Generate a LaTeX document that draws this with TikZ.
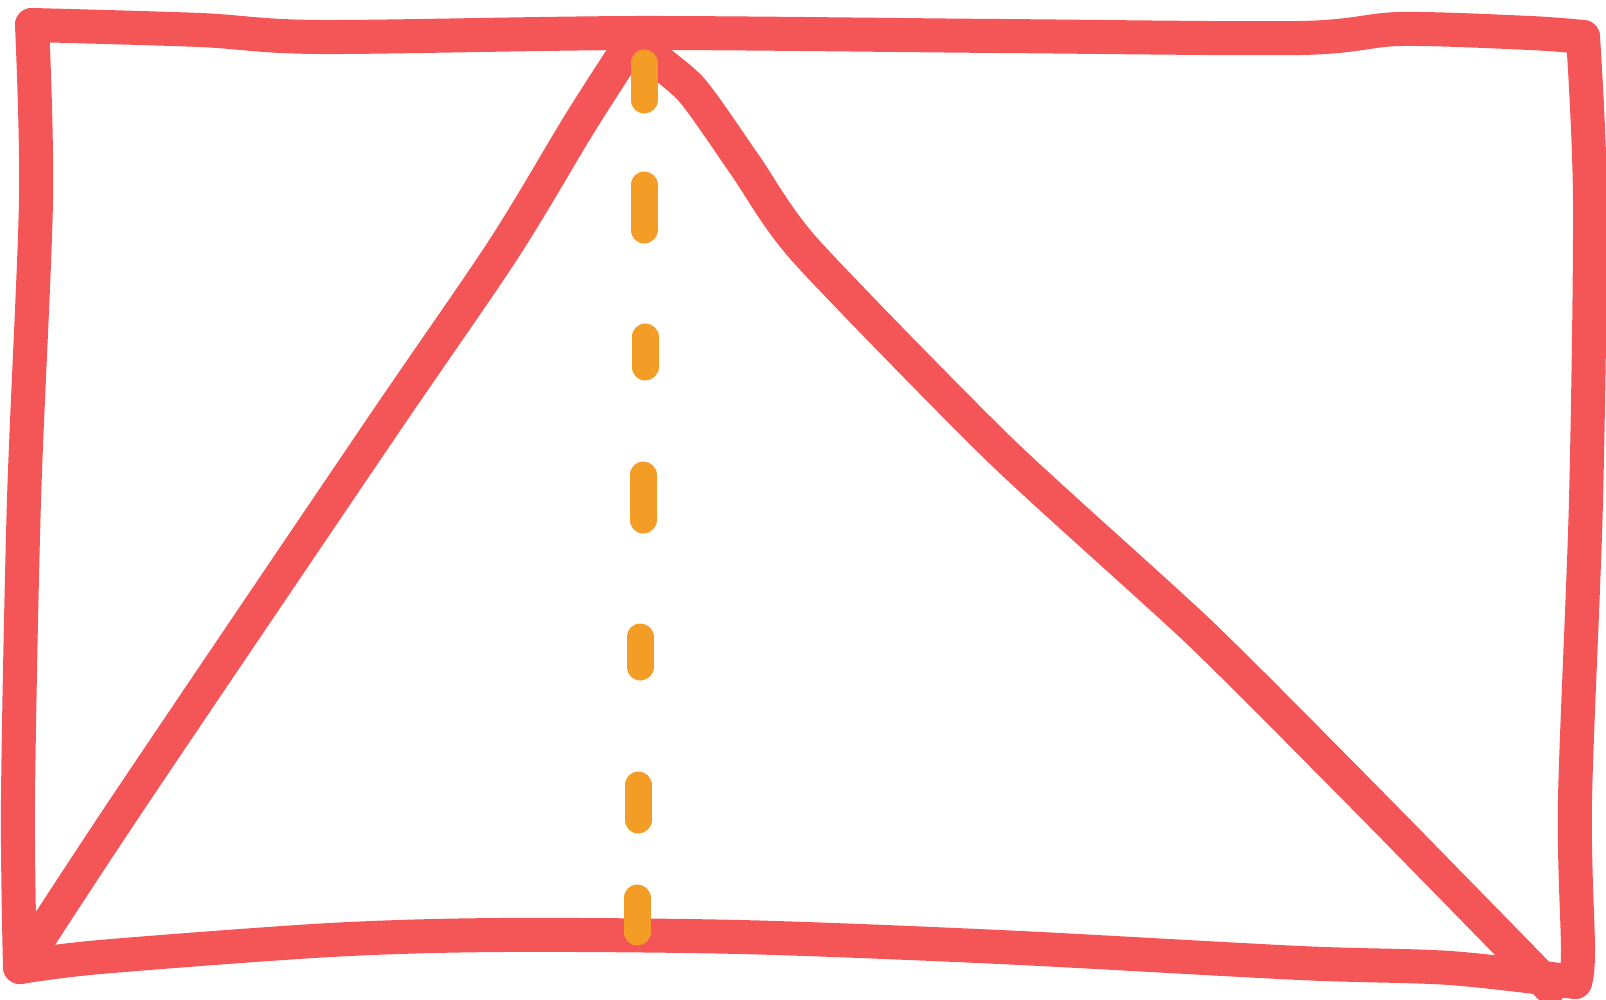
\documentclass[tikz,border=0pt]{standalone}
\usepackage{tikz}
\usetikzlibrary{positioning}

\definecolor{sketchred}{HTML}{F45658}
\definecolor{sketchorange}{HTML}{F49D26}

\tikzset{
  outline/.style={draw=sketchred, line width=0.34cm, line cap=round, line join=round},
  heightline/.style={draw=sketchorange, line width=0.27cm, line cap=round}
}

\begin{document}
\begin{tikzpicture}[x=0.01cm,y=-0.01cm]
  \useasboundingbox (0,0) rectangle (1606,1000);

  % corners of the frame
  \coordinate (TL) at (32,25);
  \coordinate (TR) at (1583,37);
  \coordinate (BR) at (1575,982);
  \coordinate (BL) at (20,967);

  % triangle
  \coordinate (apex) at (632,42);
  \coordinate (base left) at (25,960);
  \coordinate (base right) at (1550,987);

  % frame
  \draw[outline] plot[smooth, tension=0.5] coordinates
    {(TL) (200,30) (320,37) (640,33) (1000,36) (1300,38) (1400,29) (1530,33) (TR)};
  \draw[outline] plot[smooth, tension=0.5] coordinates
    {(TR) (1590,200) (1586,500) (1575,800) (1578,950) (BR)};
  \draw[outline] plot[smooth, tension=0.5] coordinates
    {(BR) (1450,968) (1300,963) (1000,947) (740,937) (500,935) (330,940) (100,957) (BL)};
  \draw[outline] plot[smooth, tension=0.5] coordinates
    {(BL) (18,800) (24,500) (36,200) (TL)};

  % sides of the triangle
  \draw[outline] plot[smooth, tension=0.5] coordinates
    {(base left) (130,800) (380,430) (503,250) (580,123) (apex)};
  \draw[outline] plot[smooth, tension=0.4] coordinates
    {(apex) (690,88) (745,165) (805,250) (1000,450) (1200,633) (1367,800) (base right)};

  % height, drawn dash by dash
  \foreach \ya/\yb/\xa in {63/100/644, 185/230/644, 337/367/645, 475/520/643,
                           637/667/640, 785/820/638, 898/932/637}
    \draw[heightline] (\xa,\ya) -- (\xa,\yb);
\end{tikzpicture}
\end{document}
